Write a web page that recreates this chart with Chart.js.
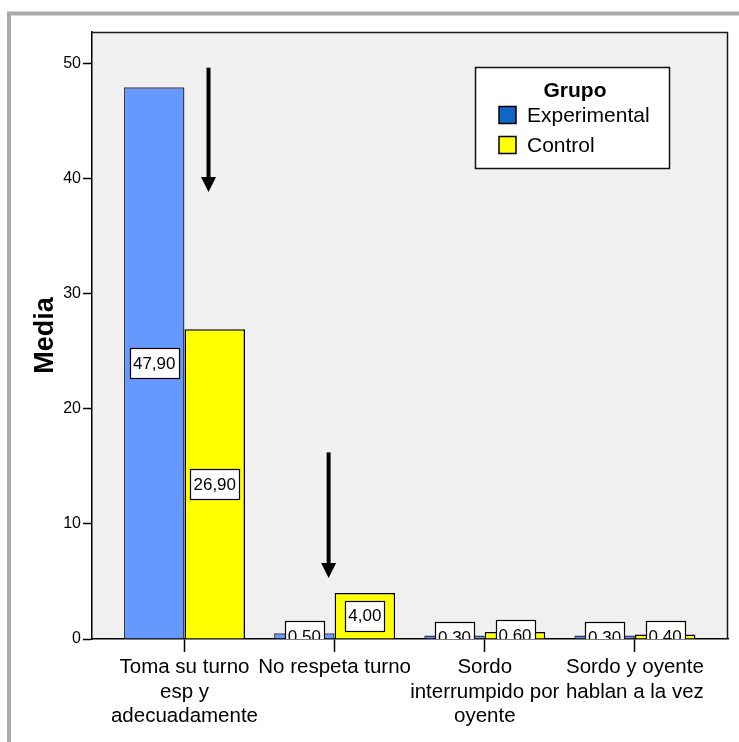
<!DOCTYPE html>
<html>
<head>
<meta charset="utf-8">
<script src="https://cdn.jsdelivr.net/npm/chart.js@4.4.1/dist/chart.umd.min.js"></script>
<style>
  html, body { margin: 0; padding: 0; background: #fff; }
  canvas { display: block; }
</style>
</head>
<body>
<canvas id="chart" width="739" height="742"></canvas>
<script>
const categories = [
  ['Toma su turno', 'esp y', 'adecuadamente'],
  ['No respeta turno'],
  ['Sordo', 'interrumpido por', 'oyente'],
  ['Sordo y oyente', 'hablan a la vez']
];
const experimental = [47.9, 0.5, 0.3, 0.3];
const control = [26.9, 4.0, 0.6, 0.4];
const seriesNames = ['Experimental', 'Control'];
const yTicks = [0, 10, 20, 30, 40, 50];
// arrows in data units: x, y start, y tip
const arrows = [[0.16, 49.6, 38.8], [0.96, 16.2, 5.3]];

const FONT = "'Liberation Sans', Arial, sans-serif";
const barColors = ['#6699FF', '#FFFF00'];
const barBorders = ['#3a3d4a', '#000000'];
const legendColors = ['#0F66C6', '#FFFF00'];

function toPoints(values) {
    return values.map((v, i) => ({ x: i, y: v }));
}

const framePlugin = {
    id: 'frame',
    beforeDraw(chart) {
        const { ctx, chartArea: a } = chart;
        ctx.save();
        ctx.fillStyle = '#fff';
        ctx.fillRect(0, 0, chart.width, chart.height);
        ctx.strokeStyle = '#ABABAB';
        ctx.lineWidth = 4;
        ctx.strokeRect(9, 13.5, chart.width + 20, chart.height + 20);
        ctx.fillStyle = '#F0F0F0';
        ctx.fillRect(a.left, a.top, a.right - a.left, a.bottom - a.top);
        ctx.restore();
    },
    afterDraw(chart) {
        const { ctx, chartArea: a } = chart;
        ctx.save();
        ctx.strokeStyle = '#1a1a1a';
        ctx.lineWidth = 1.5;
        ctx.beginPath();
        ctx.moveTo(a.left, a.top + 0.5);
        ctx.lineTo(a.right - 0.5, a.top + 0.5);
        ctx.lineTo(a.right - 0.5, a.bottom);
        ctx.stroke();
        ctx.restore();
    }
};

const labelPlugin = {
    id: 'barLabels',
    afterDatasetsDraw(chart) {
        const { ctx, chartArea: a } = chart;
        ctx.save();
        ctx.beginPath();
        ctx.rect(a.left, a.top, a.right - a.left, a.bottom - a.top);
        ctx.clip();
        ctx.font = '17px ' + FONT;
        ctx.textAlign = 'center';
        ctx.textBaseline = 'middle';
        chart.data.datasets.forEach((ds, di) => {
            chart.getDatasetMeta(di).data.forEach((bar, i) => {
                const text = ds.data[i].y.toFixed(2).replace('.', ',');
                const cy = (bar.y + bar.base) / 2;
                const w = Math.round(ctx.measureText(text).width + 6);
                const h = 30;
                const x0 = Math.round(bar.x - w / 2) + 0.5;
                const y0 = Math.round(cy - h / 2) + 0.5;
                ctx.fillStyle = '#fff';
                ctx.fillRect(x0, y0, w, h);
                ctx.strokeStyle = '#000';
                ctx.lineWidth = 1.2;
                ctx.strokeRect(x0, y0, w, h);
                ctx.fillStyle = '#000';
                ctx.fillText(text, bar.x, cy + 1);
            });
        });
        ctx.restore();

        // arrows
        const xs = chart.scales.x, ys = chart.scales.y;
        ctx.save();
        ctx.fillStyle = '#000';
        ctx.strokeStyle = '#000';
        ctx.lineWidth = 4;
        arrows.forEach(([xv, y1, y2]) => {
            const px = xs.getPixelForValue(xv);
            const p1 = ys.getPixelForValue(y1);
            const p2 = ys.getPixelForValue(y2);
            ctx.beginPath();
            ctx.moveTo(px, p1);
            ctx.lineTo(px, p2 - 12);
            ctx.stroke();
            ctx.beginPath();
            ctx.moveTo(px - 7.5, p2 - 15);
            ctx.lineTo(px + 7.5, p2 - 15);
            ctx.lineTo(px, p2);
            ctx.closePath();
            ctx.fill();
        });
        ctx.restore();
    }
};

const legendPlugin = {
    id: 'boxLegend',
    afterDraw(chart) {
        const { ctx, chartArea: a } = chart;
        const left = a.left + 383, top = a.top + 35, w = 194, h = 101;
        ctx.save();
        ctx.fillStyle = '#fff';
        ctx.fillRect(left, top, w, h);
        ctx.strokeStyle = '#111';
        ctx.lineWidth = 1.5;
        ctx.strokeRect(left + 0.5, top + 0.5, w, h);
        ctx.fillStyle = '#000';
        ctx.textBaseline = 'middle';
        ctx.textAlign = 'center';
        ctx.font = 'bold 21px ' + FONT;
        ctx.fillText('Grupo', left + w / 2 + 3, top + 24);
        ctx.textAlign = 'left';
        ctx.font = '21px ' + FONT;
        seriesNames.forEach((name, i) => {
            const cy = top + 48 + i * 30;
            ctx.fillStyle = legendColors[i];
            ctx.fillRect(left + 24, cy - 8.5, 17, 17);
            ctx.strokeStyle = '#000';
            ctx.lineWidth = 1.5;
            ctx.strokeRect(left + 24, cy - 8.5, 17, 17);
            ctx.fillStyle = '#000';
            ctx.fillText(name, left + 52, cy + 1);
        });
        ctx.restore();
    }
};

new Chart(document.getElementById('chart'), {
    type: 'bar',
    data: {
        datasets: [
            {
                label: seriesNames[0],
                data: toPoints(experimental),
                backgroundColor: barColors[0],
                borderColor: barBorders[0],
                borderWidth: 1.5
            },
            {
                label: seriesNames[1],
                data: toPoints(control),
                backgroundColor: barColors[1],
                borderColor: barBorders[1],
                borderWidth: 1.5
            }
        ]
    },
    options: {
        responsive: false,
        animation: false,
        layout: { padding: { top: 32, right: 11, left: 0, bottom: 0 } },
        datasets: { bar: { categoryPercentage: 0.806, barPercentage: 1 } },
        plugins: { legend: { display: false }, tooltip: { enabled: false } },
        scales: {
            x: {
                type: 'linear',
                min: -0.616,
                max: 3.62,
                offset: false,
                afterBuildTicks: s => { s.ticks = categories.map((c, i) => ({ value: i })); },
                afterFit: s => { s.height = 103; },
                grid: { display: true, offset: false, drawOnChartArea: false, tickLength: 13, tickColor: '#000', tickWidth: 1.5 },
                border: { display: true, color: '#000', width: 1.5 },
                ticks: {
                    autoSkip: false,
                    maxRotation: 0,
                    padding: 3,
                    color: '#000',
                    font: { family: FONT, size: 20.5, lineHeight: 1.2 },
                    callback: v => categories[v]
                }
            },
            y: {
                min: 0,
                max: 52.7,
                afterBuildTicks: s => { s.ticks = yTicks.map(v => ({ value: v })); },
                afterFit: s => { s.width = 92; },
                grid: { display: true, drawOnChartArea: false, tickLength: 9, tickColor: '#000', tickWidth: 1.5 },
                border: { display: true, color: '#000', width: 1.5 },
                ticks: {
                    padding: 2,
                    color: '#000',
                    font: { family: FONT, size: 16 },
                    callback: v => String(v)
                },
                title: {
                    display: true,
                    text: 'Media',
                    color: '#000',
                    font: { family: FONT, size: 27, weight: 'bold' },
                    padding: { top: 29, bottom: 0 }
                }
            }
        }
    },
    plugins: [framePlugin, labelPlugin, legendPlugin]
});
</script>
</body>
</html>
